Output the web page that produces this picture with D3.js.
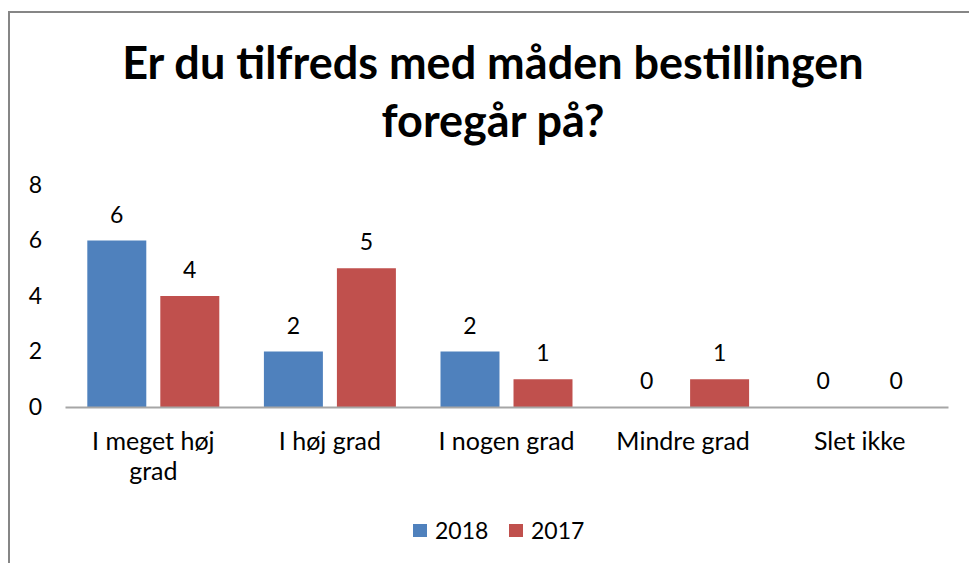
<!DOCTYPE html>
<html>
<head>
<meta charset="utf-8">
<script src="https://cdn.jsdelivr.net/npm/d3@7"></script>
<style>
  body { margin: 0; background: #fff; }
  text { font-family: Lato, "Open Sans", sans-serif; fill: #000; }
</style>
</head>
<body>
<svg id="chart"></svg>
<script>
var titleLines = ["Er du tilfreds med måden bestillingen", "foregår på?"];
var categories = ["I meget høj grad", "I høj grad", "I nogen grad", "Mindre grad", "Slet ikke"];
var seriesNames = ["2018", "2017"];
var values2018 = [6, 2, 2, 0, 0];
var values2017 = [4, 5, 1, 1, 0];
var yTicks = [0, 2, 4, 6, 8];
var colors = ["#4F81BD", "#C0504D"];

var width = 969, height = 563;
var svg = d3.select("#chart").attr("width", width).attr("height", height);

// chart frame (runs off the right and bottom of the picture)
svg.append("rect")
    .attr("x", 9)
    .attr("y", 12)
    .attr("width", 980)
    .attr("height", 580)
    .style("fill", "#fff")
    .style("stroke", "#868686")
    .style("stroke-width", 2);

// title
svg.selectAll("text.title")
    .data(titleLines)
    .enter()
    .append("text")
    .attr("class", "title")
    .attr("x", 493)
    .attr("y", function (d, i) { return 79 + i * 58; })
    .attr("text-anchor", "middle")
    .style("font-size", "45px")
    .style("font-weight", "bold")
    .text(function (d) { return d; });

var plotLeft = 65, plotRight = 948, plotTop = 185, plotBottom = 407;

var yscale = d3.scaleLinear().domain([0, 8]).range([plotBottom, plotTop]);
var x0 = d3.scaleBand().domain(categories).range([plotLeft, plotRight])
    .paddingInner(0.2526).paddingOuter(0.1263);
var x1 = d3.scaleBand().domain(seriesNames).range([0, x0.bandwidth()]).paddingInner(0.192);

var data = categories.map(function (c, i) {
    return { cat: c, vals: [
        { s: seriesNames[0], v: values2018[i], color: colors[0] },
        { s: seriesNames[1], v: values2017[i], color: colors[1] }
    ] };
});

//Y-axis labels (no axis line)
var yaxis = d3.axisLeft(yscale).tickValues(yTicks).tickSize(0).tickPadding(0);
var yg = svg.append("g")
    .attr("transform", "translate(42,0)")
    .call(yaxis);
yg.select(".domain").remove();
yg.selectAll("text")
    .style("font-size", "23px")
    .style("font-family", "Lato, sans-serif")
    .attr("fill", "#000");

// bars
var groups = svg.selectAll("g.cat")
    .data(data)
    .enter()
    .append("g")
    .attr("class", "cat")
    .attr("transform", function (d) { return "translate(" + x0(d.cat) + ",0)"; });

groups.selectAll("rect")
    .data(function (d) { return d.vals; })
    .enter()
    .append("rect")
    .attr("x", function (d) { return x1(d.s); })
    .attr("y", function (d) { return yscale(d.v); })
    .attr("width", x1.bandwidth())
    .attr("height", function (d) { return yscale(0) - yscale(d.v); })
    .style("fill", function (d) { return d.color; });

groups.selectAll("text.val")
    .data(function (d) { return d.vals; })
    .enter()
    .append("text")
    .attr("class", "val")
    .attr("x", function (d) { return x1(d.s) + x1.bandwidth() / 2; })
    .attr("y", function (d) { return yscale(d.v) - 26; })
    .attr("dy", "0.35em")
    .attr("text-anchor", "middle")
    .style("font-size", "23px")
    .text(function (d) { return d.v; });

//X-axis
var xaxis = d3.axisBottom(x0).tickSize(0).tickPadding(0);
var xg = svg.append("g")
    .attr("transform", "translate(0," + plotBottom + ")")
    .call(xaxis);
xg.select(".domain")
    .attr("stroke", "#a6a6a6")
    .attr("stroke-width", 2);
xg.selectAll("text").remove();

// category labels, wrapped
xg.selectAll("g.tick").each(function (d) {
    var words = d.split(" ");
    var lines = [];
    var line = [];
    var tmp = d3.select(this).append("text").style("font-size", "25px");
    words.forEach(function (w) {
        line.push(w);
        tmp.text(line.join(" "));
        if (tmp.node().getComputedTextLength() > 160 && line.length > 1) {
            line.pop();
            lines.push(line.join(" "));
            line = [w];
        }
    });
    lines.push(line.join(" "));
    tmp.remove();
    var t = d3.select(this).append("text")
        .attr("text-anchor", "middle")
        .style("font-size", "25px");
    t.selectAll("tspan")
        .data(lines)
        .enter()
        .append("tspan")
        .attr("x", 0)
        .attr("y", function (l, i) { return 43 + i * 30; })
        .text(function (l) { return l; });
});

// legend
var legend = svg.append("g").attr("transform", "translate(413,531)");
var items = legend.selectAll("g")
    .data(seriesNames)
    .enter()
    .append("g")
    .attr("transform", function (d, i) { return "translate(" + i * 96 + ",0)"; });
items.append("rect")
    .attr("x", 0)
    .attr("y", -7)
    .attr("width", 14)
    .attr("height", 13)
    .style("fill", function (d, i) { return colors[i]; });
items.append("text")
    .attr("x", 22)
    .attr("y", 0)
    .attr("dy", "0.35em")
    .style("font-size", "23px")
    .text(function (d) { return d; });
</script>
</body>
</html>
